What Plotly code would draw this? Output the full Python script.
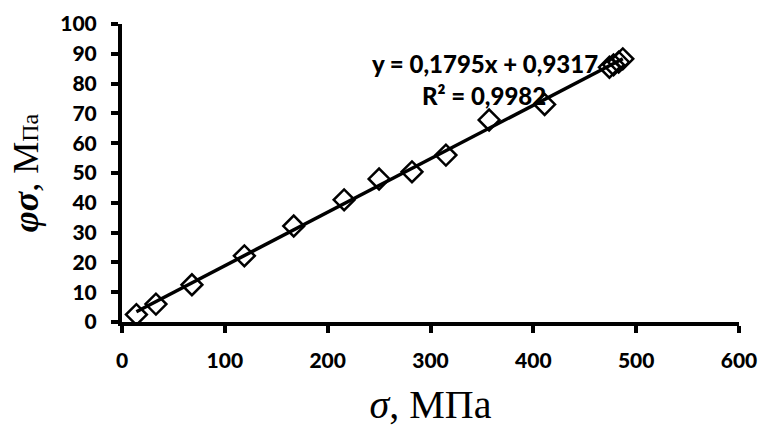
import plotly.graph_objects as go
import numpy as np

# Data
sigma = [14, 33, 68, 119, 167, 216, 250, 282, 315, 357, 411, 474, 478, 483, 487]
phi_sigma = [2.5, 6.0, 12.5, 22.2, 32.2, 41.0, 48.0, 50.4, 56.0, 67.8, 73.0, 85.5, 86.3, 87.2, 88.3]

slope = 0.1795
intercept = 0.9317
r2 = 0.9982

x_ticks = [0, 100, 200, 300, 400, 500, 600]
y_ticks = [0, 10, 20, 30, 40, 50, 60, 70, 80, 90, 100]

fit_x = np.array([min(sigma), max(sigma)])
fit_y = slope * fit_x + intercept

fig = go.Figure()
fig.add_trace(go.Scatter(
    x=fit_x, y=fit_y, mode="lines",
    line=dict(color="black", width=3.5),
    showlegend=False,
))
fig.add_trace(go.Scatter(
    x=sigma, y=phi_sigma, mode="markers",
    marker=dict(symbol="diamond-open", size=16, color="black", line=dict(width=2.5, color="black")),
    showlegend=False,
))

tick_font = dict(family="Lato", size=21, color="black", weight=900)

fig.update_layout(
    width=762, height=427,
    margin=dict(l=122, r=23, t=24, b=105),
    paper_bgcolor="white", plot_bgcolor="white",
    xaxis=dict(
        range=[0, 600], tickvals=x_ticks, ticktext=[str(v) for v in x_ticks],
        ticks="outside", ticklen=7, tickwidth=4, tickcolor="black", automargin=False,
        showline=True, linewidth=4, linecolor="black", showgrid=False, zeroline=False,
        tickfont=tick_font, ticklabelstandoff=10,
        title=dict(text="<i>σ</i>, МПа", font=dict(family="Liberation Serif", size=40, color="black"), standoff=22),
    ),
    yaxis=dict(
        range=[0, 100], tickvals=y_ticks, ticktext=[str(v) for v in y_ticks],
        ticks="outside", ticklen=7, tickwidth=4, tickcolor="black", automargin=False,
        showline=True, linewidth=4, linecolor="black", showgrid=False, zeroline=False,
        tickfont=tick_font, ticklabelstandoff=10,
        title=dict(text="<b><i>φσ</i></b>, М<span style='font-size:24px'>Па</span>",
                   font=dict(family="Liberation Serif", size=36, color="black"), standoff=12),
    ),
    annotations=[
        dict(xref="x", yref="y", x=(485 - 122) / 617 * 600, y=(322 - 63) / 298 * 100,
             text=f"y = {str(slope).replace('.', ',')}x + {str(intercept).replace('.', ',')}",
             showarrow=False, font=dict(family="Lato", size=24, color="black", weight=900)),
        dict(xref="x", yref="y", x=(484 - 122) / 617 * 600, y=(322 - 95) / 298 * 100,
             text=f"R² = {str(r2).replace('.', ',')}",
             showarrow=False, font=dict(family="Lato", size=24, color="black", weight=900)),
    ],
)

fig.write_html("out.html")
